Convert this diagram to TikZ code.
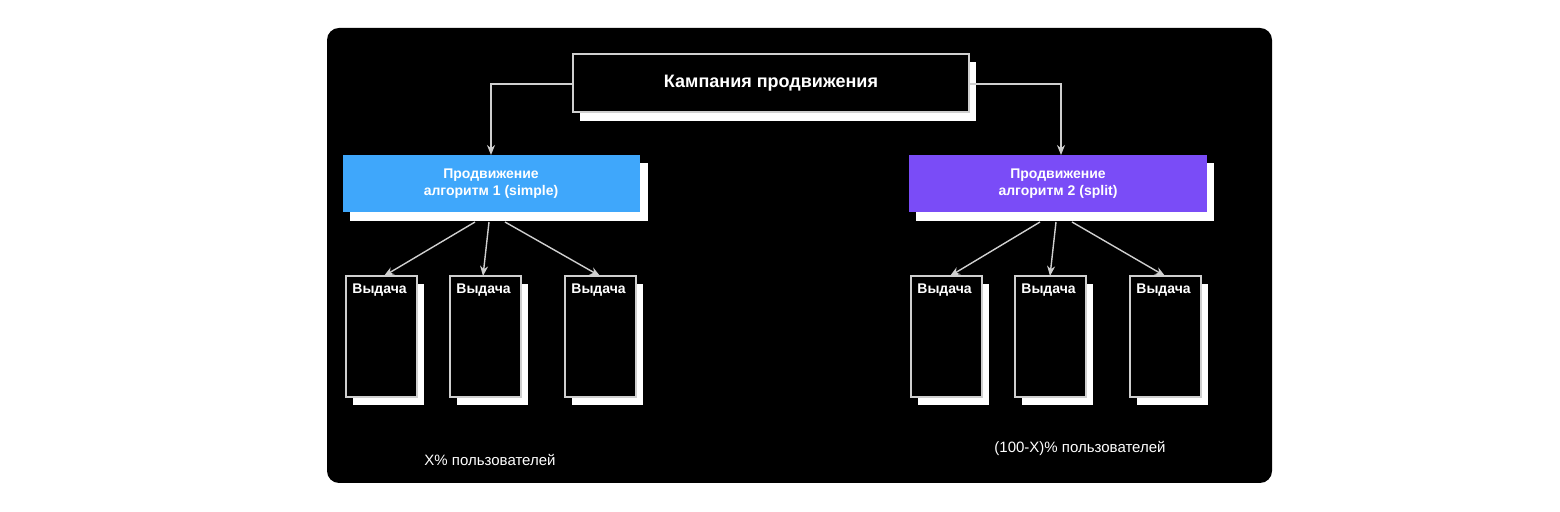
\documentclass[tikz,border=0pt]{standalone}
\usepackage{fontspec}
\setmainfont{Liberation Sans}
\usetikzlibrary{arrows.meta}
\definecolor{blueb}{HTML}{3FA7FB}
\definecolor{purpb}{HTML}{7A4CF7}
\definecolor{edge}{HTML}{CFCFCF}
\begin{document}
\begin{tikzpicture}[x=0.5pt,y=-0.5pt,
  sh/.style={fill=white,draw=none},
  arr/.style={draw=edge,line width=0.7pt,-{Stealth[length=5pt,width=4pt]}},
  lbl/.style={text=white,font=\bfseries\fontsize{7}{8.5}\selectfont,align=center}]
\useasboundingbox (0,0) rectangle (1560,512);
\fill[white] (0,0) rectangle (1560,512);
\fill[black,rounded corners=6pt] (327,28) rectangle (1272,483);
% top box
\fill[white] (580,62) rectangle (976,121);
\draw[edge,fill=black,line width=0.6pt] (573,54) rectangle (969,112);
\node[text=white,font=\bfseries\fontsize{9}{10}\selectfont] (top) at (771,83) {Кампания продвижения};
% algorithm boxes
\fill[white] (350,163) rectangle (648,221);
\fill[blueb] (343,155) rectangle (640,212);
\node[lbl] (a1) at (491,184) {Продвижение\\алгоритм 1 (simple)};
\fill[white] (916,163) rectangle (1214,221);
\fill[purpb] (909,155) rectangle (1207,212);
\node[lbl] (a2) at (1058,184) {Продвижение\\алгоритм 2 (split)};
\coordinate (tl) at (573,84); \coordinate (tr) at (969,84);
\coordinate (a1t) at (491,155); \coordinate (a2t) at (1061,155);
\draw[arr] (tl) -| (a1t);
\draw[arr] (tr) -| (a2t);
% output boxes
\foreach \n/\x in {l1/346,l2/450,l3/565,r1/911,r2/1015,r3/1130}{
  \fill[white] (\x+7,284) rectangle (\x+78,405);
  \draw[edge,fill=black,line width=0.6pt] (\x,276) rectangle (\x+71,397);
  \node[anchor=north west,text=white,font=\bfseries\fontsize{7}{8}\selectfont,inner sep=1.5pt] (\n) at (\x+3,280) {Выдача};
  \coordinate (\n t) at (\x+36,276);
}
\coordinate (s1) at (475,222); \coordinate (s2) at (489,222); \coordinate (s3) at (505,222);
\coordinate (u1) at (1040,222); \coordinate (u2) at (1056,222); \coordinate (u3) at (1072,222);
\draw[arr] (s1) -- (384,276);
\draw[arr] (s2) -- (483,276);
\draw[arr] (s3) -- (600,276);
\draw[arr] (u1) -- (950,276);
\draw[arr] (u2) -- (1050,276);
\draw[arr] (u3) -- (1165,276);
\node[text=white,font=\fontsize{7.5}{9}\selectfont] (p1) at (490,460) {X\% пользователей};
\node[text=white,font=\fontsize{7.5}{9}\selectfont] (p2) at (1080,448) {(100-X)\% пользователей};
\end{tikzpicture}
\end{document}
